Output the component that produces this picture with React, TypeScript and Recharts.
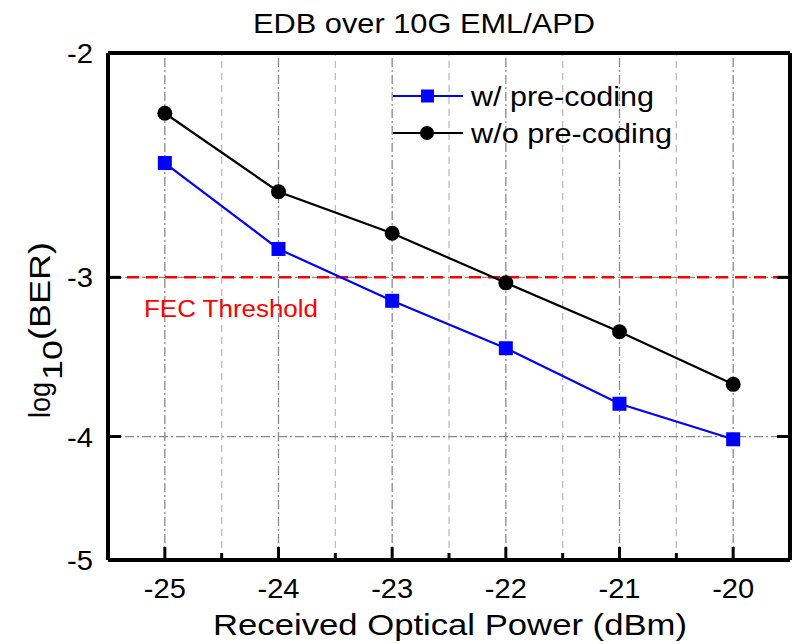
import React from "react";
import {
  LineChart,
  Line,
  XAxis,
  YAxis,
  ReferenceLine,
} from "recharts";

// received optical power (dBm)
const power = [-25, -24, -23, -22, -21, -20];
// log10(BER)
const withPreCoding = [-2.44, -2.85, -3.13, -3.41, -3.77, -4.02];
const withoutPreCoding = [-2.23, -2.57, -2.77, -3.03, -3.31, -3.64];

const xTicks = [-25, -24.5, -24, -23.5, -23, -22.5, -22, -21.5, -21, -20.5, -20];
const xMajorGrid = [-25, -24, -23, -22, -21, -20];
const xMinorGrid = [-24.5, -23.5, -22.5, -21.5, -20.5];
const yTicks = [-2, -3, -4, -5];
const yGrid = [-3, -4];
const fecThreshold = -3;

const series = [
  { key: "w", name: "w/ pre-coding", color: "#0000ff", marker: "square", textLen: 183 },
  { key: "wo", name: "w/o pre-coding", color: "#000000", marker: "circle", textLen: 201 },
];

// axis runs on -log10(BER) with a log scale, so keep values positive for it
const data = power.map((p, i) => ({
  p,
  w: -withPreCoding[i],
  wo: -withoutPreCoding[i],
}));

const FONT = "'Liberation Sans', Arial, sans-serif";
const MAJOR_GRID = "#8a8a8a";
const MINOR_GRID = "#bdbdbd";
const STRETCH = "spacingAndGlyphs";

const BottomTick = (props: any) => {
  const { x, y, payload } = props;
  const v = payload.value;
  const major = Number.isInteger(v);
  return (
    <g>
      <line x1={x} x2={x} y1={y} y2={y - (major ? 13 : 7)} stroke="#000" strokeWidth={3} />
      {major && (
        <text
          x={x}
          y={y + 38}
          textAnchor="middle"
          fontSize={28}
          fontFamily={FONT}
          fill="#000"
          textLength={42}
          lengthAdjust={STRETCH}
        >
          {v}
        </text>
      )}
    </g>
  );
};

const TopTick = (props: any) => {
  const { x, y, payload } = props;
  const major = Number.isInteger(payload.value);
  return <line x1={x} x2={x} y1={y} y2={y + (major ? 13 : 8)} stroke="#000" strokeWidth={3} />;
};

const LeftTick = (props: any) => {
  const { x, y, payload } = props;
  return (
    <g>
      <line x1={x} x2={x + 13} y1={y} y2={y} stroke="#000" strokeWidth={3} />
      <text
        x={x - 15}
        y={y + 10}
        textAnchor="end"
        fontSize={28}
        fontFamily={FONT}
        fill="#000"
        textLength={26}
        lengthAdjust={STRETCH}
      >
        {`-${payload.value}`}
      </text>
    </g>
  );
};

const RightTick = (props: any) => {
  const { x, y } = props;
  return <line x1={x} x2={x - 13} y1={y} y2={y} stroke="#000" strokeWidth={3} />;
};

const FecLabel = (props: any) => {
  const vb = props.viewBox || {};
  return (
    <text
      x={vb.x + 36}
      y={vb.y + 40}
      fontSize={23}
      fontFamily={FONT}
      fill="#ff0000"
      textLength={174}
      lengthAdjust={STRETCH}
    >
      FEC Threshold
    </text>
  );
};

const SquareDot = (props: any) => {
  const { cx, cy, index } = props;
  if (cx == null || cy == null) return null;
  return <rect key={`s-${index}`} x={cx - 7} y={cy - 7} width={14} height={14} fill="#0000ff" />;
};

const CircleDot = (props: any) => {
  const { cx, cy, index } = props;
  if (cx == null || cy == null) return null;
  return <circle key={`c-${index}`} cx={cx} cy={cy} r={7.5} fill="#000" />;
};

export default function App() {
  const yDomain = [-yTicks[0], -yTicks[yTicks.length - 1]];
  const yTickVals = yTicks.map((t) => -t);
  const xDomain = [power[0] - 0.5, power[power.length - 1] + 0.5];

  return (
    <div style={{ position: "relative", width: 794, height: 644, background: "#fff" }}>
      <style>{"body{margin:0}"}</style>
      <LineChart width={794} height={644} data={data} margin={{ top: 0, right: 0, bottom: 0, left: 0 }}>
        <XAxis
          dataKey="p"
          type="number"
          domain={xDomain}
          ticks={xTicks}
          interval={0}
          height={84}
          tickSize={0}
          tickMargin={0}
          tick={<BottomTick />}
          axisLine={{ stroke: "#000", strokeWidth: 4 }}
        />
        <XAxis
          xAxisId="top"
          orientation="top"
          type="number"
          domain={xDomain}
          ticks={xTicks}
          interval={0}
          height={53}
          tickSize={0}
          tickMargin={0}
          tick={<TopTick />}
          axisLine={{ stroke: "#000", strokeWidth: 4 }}
        />
        <YAxis
          type="number"
          scale="log"
          domain={yDomain}
          ticks={yTickVals}
          reversed
          allowDataOverflow
          interval={0}
          width={108}
          tickSize={0}
          tickMargin={0}
          tick={<LeftTick />}
          axisLine={{ stroke: "#000", strokeWidth: 4 }}
        />
        <YAxis
          yAxisId="right"
          orientation="right"
          type="number"
          scale="log"
          domain={yDomain}
          ticks={yTickVals}
          reversed
          allowDataOverflow
          interval={0}
          width={4}
          tickSize={0}
          tickMargin={0}
          tick={<RightTick />}
          axisLine={{ stroke: "#000", strokeWidth: 4 }}
        />

        {xMinorGrid.map((v) => (
          <ReferenceLine key={`mx${v}`} x={v} stroke={MINOR_GRID} strokeWidth={1.3} strokeDasharray="7 5" />
        ))}
        {xMajorGrid.map((v) => (
          <ReferenceLine key={`Mx${v}`} x={v} stroke={MAJOR_GRID} strokeWidth={1.3} strokeDasharray="9 3 2 3" />
        ))}
        {yGrid.map((v) => (
          <ReferenceLine key={`My${v}`} y={-v} stroke={MAJOR_GRID} strokeWidth={1.3} strokeDasharray="9 3 2 3" />
        ))}
        <ReferenceLine
          y={-fecThreshold}
          stroke="#ff0000"
          strokeWidth={2.5}
          strokeDasharray="12 7"
          label={<FecLabel />}
        />

        <Line
          dataKey="wo"
          type="linear"
          stroke="#000"
          strokeWidth={2.2}
          dot={<CircleDot />}
          isAnimationActive={false}
        />
        <Line
          dataKey="w"
          type="linear"
          stroke="#0000ff"
          strokeWidth={2.2}
          dot={<SquareDot />}
          isAnimationActive={false}
        />
      </LineChart>

      <svg
        width={794}
        height={644}
        style={{ position: "absolute", left: 0, top: 0, pointerEvents: "none" }}
      >
        <text x={253} y={33} fontSize={27} fontFamily={FONT} fill="#000" textLength={342} lengthAdjust={STRETCH}>
          EDB over 10G EML/APD
        </text>
        <text x={213} y={635} fontSize={30} fontFamily={FONT} fill="#000" textLength={474} lengthAdjust={STRETCH}>
          Received Optical Power (dBm)
        </text>
        <g transform="translate(50,418) rotate(-90)" fontFamily={FONT} fill="#000">
          <text x={0} y={0} fontSize={30} textLength={36} lengthAdjust={STRETCH}>log</text>
          <text x={38} y={12} fontSize={27} textLength={40} lengthAdjust={STRETCH}>10</text>
          <text x={78} y={0} fontSize={29} textLength={98} lengthAdjust={STRETCH}>(BER)</text>
        </g>

        {series.map((s, i) => {
          const y = 96 + i * 37;
          return (
            <g key={s.key}>
              <line x1={393} x2={463} y1={y} y2={y} stroke={s.color} strokeWidth={2.2} />
              {s.marker === "square" ? (
                <rect x={421} y={y - 6.5} width={13} height={13} fill={s.color} />
              ) : (
                <circle cx={427} cy={y} r={7} fill={s.color} />
              )}
              <text
                x={471}
                y={y + 10}
                fontSize={27}
                fontFamily={FONT}
                fill="#000"
                textLength={s.textLen}
                lengthAdjust={STRETCH}
              >
                {s.name}
              </text>
            </g>
          );
        })}
      </svg>
    </div>
  );
}
